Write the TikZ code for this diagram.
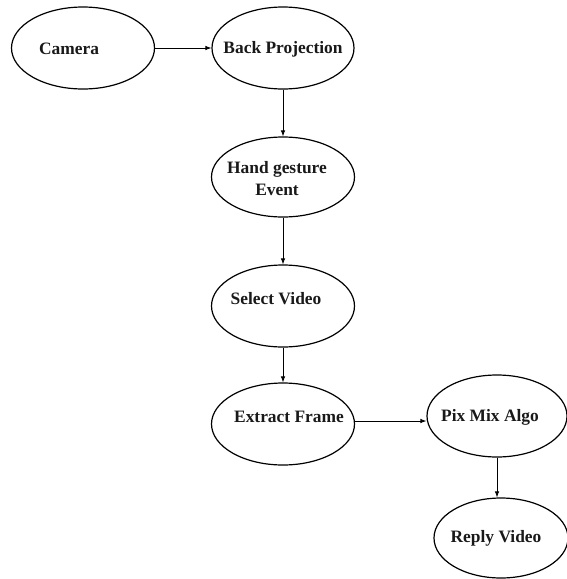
\documentclass[tikz,border=0pt]{standalone}
\usepackage{fontspec}
\setmainfont{Liberation Serif}
\usetikzlibrary{shapes.geometric,arrows.meta}
\begin{document}
\begin{tikzpicture}[x=1pt,y=-1pt,
  box/.style={ellipse,draw,line width=1.2pt,inner sep=0pt,minimum width=143pt,minimum height=82pt},
  lab/.style={font=\fontsize{17.4}{22}\selectfont\bfseries,align=center,text=black!90},
  conn/.style={line width=0.8pt,-{Latex[length=6pt,width=4.5pt]}}]
\useasboundingbox (0,0) rectangle (567,579);
\node[box] (cam) at (83,48) {};
\node[box,minimum width=142pt] (bp) at (283,48) {};
\node[box,minimum height=80pt] (hg) at (283,177) {};
\node[box] (sv) at (283,306) {};
\node[box] (ef) at (283,424) {};
\node[box,minimum width=140pt,minimum height=82pt] (pm) at (497,416) {};
\node[box,minimum width=134pt,minimum height=80pt] (rv) at (501,538) {};
\node[lab] (tcam) at (69,49) {Camera};
\node[lab] (tbp) at (283,49) {Back Projection};
\node[lab] (thg) at (277,179) {Hand gesture\\Event};
\node[lab] (tsv) at (276,299) {Select Video};
\node[lab] (tef) at (289,417) {Extract Frame};
\node[lab] (tpm) at (490,417) {Pix Mix Algo};
\node[lab] (trv) at (496,538) {Reply Video};
\draw[conn] (cam.east) -- (bp.west);
\draw[conn] (bp.south) -- (hg.north);
\draw[conn] (hg.south) -- (sv.north);
\draw[conn] (sv.south) -- (ef.north);
\draw[conn] (ef.east |- 0,421) -- (pm.west |- 0,421);
\draw[conn] (pm.south) -- (pm.south |- rv.north);
\end{tikzpicture}
\end{document}
